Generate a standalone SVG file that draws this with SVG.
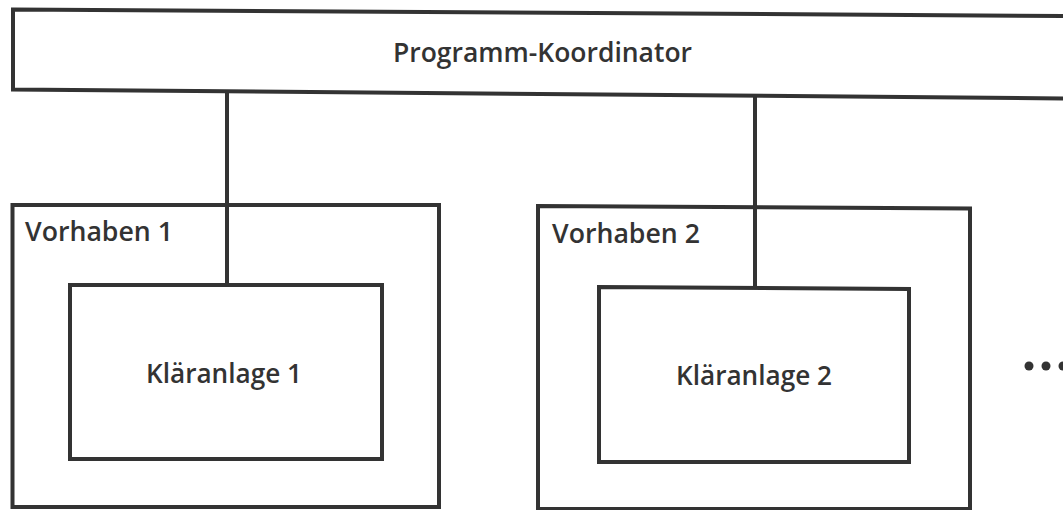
<svg xmlns="http://www.w3.org/2000/svg" width="1063" height="510" viewBox="0 0 1063 510">
  <style>
    .box { fill: none; stroke: #333333; stroke-width: 4; stroke-linejoin: miter; }
    .conn { fill: none; stroke: #333333; stroke-width: 4; }
    .lbl { font-family: "Open Sans", "Liberation Sans", sans-serif; font-size: 27px; font-weight: 600; fill: #333333; }
    .dot { fill: #333333; }
  </style>
  <rect width="1063" height="510" fill="#ffffff"/>
  <g id="connectors">
    <line class="conn" x1="227" y1="91" x2="227" y2="285"/>
    <line class="conn" x1="755" y1="96" x2="755" y2="288"/>
  </g>
  <g id="programm-koordinator">
    <path class="box" d="M13,9.5 L1075,16 L1075,98.5 L13,89.5 Z"/>
    <text class="lbl" x="393" y="62" textLength="299" lengthAdjust="spacingAndGlyphs">Programm-Koordinator</text>
  </g>
  <g id="vorhaben1">
    <path class="box" d="M12.5,205 L439,205 L439,507 L12.5,507 Z"/>
    <text class="lbl" x="25" y="241" textLength="148" lengthAdjust="spacingAndGlyphs">Vorhaben 1</text>
  </g>
  <g id="klaeranlage1">
    <rect class="box" x="70" y="285" width="312" height="174"/>
    <text class="lbl" x="146" y="383" textLength="156" lengthAdjust="spacingAndGlyphs">Kläranlage 1</text>
  </g>
  <g id="vorhaben2">
    <path class="box" d="M538,206 L970,208.5 L970,509 L538,509 Z"/>
    <text class="lbl" x="552" y="243" textLength="148" lengthAdjust="spacingAndGlyphs">Vorhaben 2</text>
  </g>
  <g id="klaeranlage2">
    <path class="box" d="M599,287 L909,289 L909,462 L599,462 Z"/>
    <text class="lbl" x="676" y="385" textLength="156" lengthAdjust="spacingAndGlyphs">Kläranlage 2</text>
  </g>
  <g id="ellipsis">
    <circle class="dot" cx="1029" cy="366" r="4.5"/>
    <circle class="dot" cx="1046" cy="366" r="4.5"/>
    <circle class="dot" cx="1063" cy="366" r="4.5"/>
  </g>
</svg>
